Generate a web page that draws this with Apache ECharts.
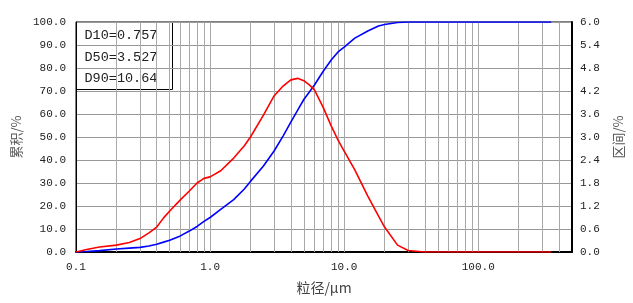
<!DOCTYPE html>
<html>
<head>
<meta charset="utf-8">
<script src="https://cdn.jsdelivr.net/npm/echarts@6/dist/echarts.min.js"></script>
<style>html,body{margin:0;padding:0;background:#fff;}#c{width:633px;height:303px;}</style>
</head>
<body>
<div id="c"></div>
<script>
// particle sizes (µm)
const sizes = [0.1,0.12,0.15,0.2,0.25,0.3,0.35,0.4,0.45,0.5,0.6,0.7,0.8,0.9,1.0,1.2,1.5,1.8,2.0,2.5,3.0,3.5,4.0,4.5,5.0,5.5,6.0,7.0,8.0,9.0,10,12,15,18,20,25,30,40,50,100,200,350];
// cumulative % (left axis)
const cumulative = [0,0.2,0.6,1.3,1.7,2.0,2.6,3.4,4.3,5.1,7.0,9.1,11.1,13.3,15.0,18.5,22.8,27.4,30.7,37.4,43.9,50.4,56.5,61.7,66.3,69.6,72.6,78.7,83.5,87.0,89.1,93.0,96.1,98.3,98.9,99.8,100,100,100,100,100,100];
// interval % (right axis)
const interval = [0,0.065,0.13,0.18,0.25,0.35,0.5,0.65,0.89,1.07,1.36,1.59,1.80,1.92,1.96,2.12,2.45,2.77,3.0,3.57,4.07,4.33,4.49,4.53,4.47,4.36,4.23,3.76,3.29,2.92,2.63,2.14,1.46,0.94,0.65,0.18,0.04,0,0,0,0,0];
const dLabels = ['D10=0.757','D50=3.527','D90=10.64'];
const xTickDecades = [0.1,1,10,100];

const gridX = [];
xTickDecades.forEach(d => { for (let k = 1; k <= 9; k++) { const v = +(k*d).toPrecision(3); if (v > 0.1 && v < 500) gridX.push(v); } });

const mono = 'Liberation Mono';
const chart = echarts.init(document.getElementById('c'));
chart.setOption({
  animation: false,
  backgroundColor: '#fff',
  grid: {left: 76, right: 59, top: 22, bottom: 51, show: true, borderColor: '#000', borderWidth: 1},
  xAxis: {
    type: 'log', logBase: 10, min: 0.1, max: 500,
    name: '粒径/μm', nameLocation: 'middle', nameGap: 29,
    nameTextStyle: {fontFamily: 'Noto Sans CJK SC', fontSize: 14, color: '#444'},
    axisLine: {show: true, lineStyle: {color: '#000', width: 2}},
    axisTick: {show: false},
    splitLine: {show: false},
    axisLabel: {showMaxLabel: false, margin: 10, fontFamily: mono, fontSize: 11, color: '#222', formatter: v => (+v).toFixed(1)}
  },
  yAxis: [{
    type: 'value', min: 0, max: 100, interval: 10, position: 'left',
    name: '累积/%', nameLocation: 'middle', nameGap: 50, nameRotate: 90,
    nameTextStyle: {fontFamily: 'Noto Sans CJK SC', fontSize: 13, color: '#555'},
    axisLine: {show: true, lineStyle: {color: '#000', width: 1}},
    axisTick: {show: false},
    splitLine: {show: true, lineStyle: {color: '#999', width: 1}},
    axisLabel: {margin: 10, fontFamily: mono, fontSize: 11, color: '#222', formatter: v => v.toFixed(1)}
  }, {
    type: 'value', min: 0, max: 6, interval: 0.6, position: 'right',
    name: '区间/%', nameLocation: 'middle', nameGap: 40, nameRotate: 90,
    nameTextStyle: {fontFamily: 'Noto Sans CJK SC', fontSize: 13, color: '#555'},
    axisLine: {show: true, lineStyle: {color: '#000', width: 2}},
    axisTick: {show: false},
    splitLine: {show: false},
    axisLabel: {margin: 8, fontFamily: mono, fontSize: 11, color: '#222', formatter: v => v.toFixed(1)}
  }],
  series: [{
    type: 'line', name: 'grid', data: [], silent: true,
    markLine: {silent: true, symbol: 'none', label: {show: false}, animation: false,
      lineStyle: {color: '#a8a8a8', width: 1, type: 'solid'},
      data: gridX.map(v => ({xAxis: v}))}
  }, {
    type: 'line', name: '累积', yAxisIndex: 0, showSymbol: false, smooth: false,
    lineStyle: {color: '#0000ff', width: 1.6}, itemStyle: {color: '#0000ff'},
    data: sizes.map((s, i) => [s, cumulative[i]]), z: 5
  }, {
    type: 'line', name: '区间', yAxisIndex: 1, showSymbol: false, smooth: false,
    lineStyle: {color: '#ff0000', width: 1.6}, itemStyle: {color: '#ff0000'},
    data: sizes.map((s, i) => [s, interval[i]]), z: 5
  }],
  graphic: [{
    type: 'group', left: 76, top: 22, z: 100,
    children: [
      {type: 'rect', shape: {x: 0, y: 0, width: 96, height: 67}, style: {fill: '#fff', stroke: '#000', lineWidth: 1}},
      ...dLabels.map((t, i) => ({type: 'text', x: 8, y: 13 + i * 21.5, style: {text: t, fontFamily: mono, fontSize: 13.5, fill: '#222', textVerticalAlign: 'middle'}}))
    ]
  }]
});
</script>
</body>
</html>
